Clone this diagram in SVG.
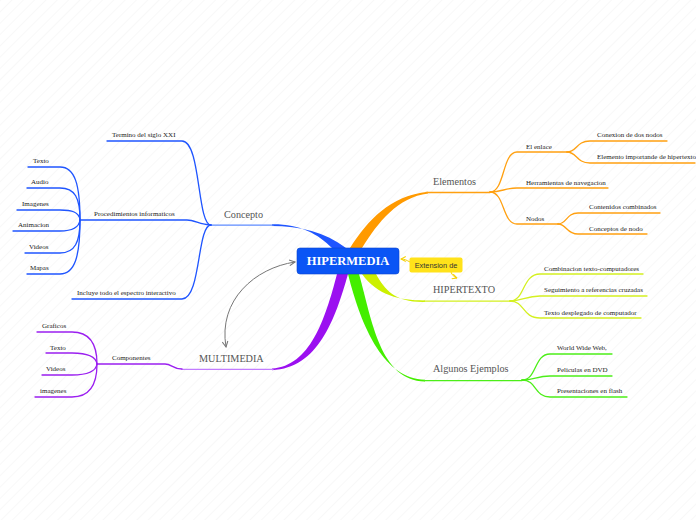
<svg xmlns="http://www.w3.org/2000/svg" width="696" height="520" viewBox="0 0 696 520">
<style>
.t{font-family:"Liberation Serif","Times New Roman",serif;font-size:7px;fill:#222}
.m{font-family:"Liberation Serif","Times New Roman",serif;font-size:10.2px;fill:#555}
.l{fill:none;stroke-width:1.3;stroke-linecap:round}
.b{stroke:#1f55ff}.bl{stroke:#5f8cff}
.o{stroke:#ffa010}
.p{stroke:#9b1ff0}.pl{stroke:#c27cff}
.y{stroke:#d4f020}
.g{stroke:#4cee18}
</style>
<defs>
<pattern id="bg" width="8" height="8" patternUnits="userSpaceOnUse" patternTransform="rotate(45)">
<line x1="0" y1="0" x2="0" y2="8" stroke="#f1f1f1" stroke-width="1"/>
</pattern>
<marker id="ga" viewBox="0 0 10 10" refX="9" refY="5" markerWidth="7" markerHeight="7" orient="auto-start-reverse">
<path d="M1,1 L9,5 L1,9" fill="none" stroke="#777" stroke-width="1.5"/>
</marker>
<marker id="ya" viewBox="0 0 10 10" refX="9" refY="5" markerWidth="6" markerHeight="6" orient="auto">
<path d="M1,1 L9,5 L1,9" fill="none" stroke="#f5d000" stroke-width="1.8"/>
</marker>
</defs>
<rect width="696" height="520" fill="#fff"/>
<rect width="696" height="520" fill="url(#bg)"/>

<g id="connectors">
<!-- main tapered branches -->
<path d="M272,224.3 C300,224 318,234 332,248 L346,248 C325,232 300,226 272,226 Z" fill="#1f55ff"/>
<path d="M350,248 C368,220 390,196 428,191.8 L428,193.4 C398,197 378,222 362,248 Z" fill="#ff9a00"/>
<path d="M337,274 C325,320 310,366 272,368.6 L272,370.2 C318,368 335,320 348,274 Z" fill="#9b10f0"/>
<path d="M348,274 C362,330 385,379 425,379.8 L425,381.4 C380,381 372,320 359,274 Z" fill="#44ee00"/>
<path d="M362,274 C378,296 400,300.5 425,300.4 L425,302 C395,302.5 385,290 376,274 Z" fill="#ccf000"/>
<!-- main underlines -->
<path class="l bl" d="M211,225.2 L273,225.2"/>
<path class="l o" d="M426,192.5 L490,192.5"/>
<path class="l pl" d="M182,369.4 L273,369.4"/>
<path class="l y" d="M424,301.2 L510,301.2"/>
<path class="l g" d="M424,380.6 L522,380.6"/>
<!-- Concepto children -->
<path class="l b" d="M211,225 C197,225 201,141 182,141 L107,141"/>
<path class="l b" d="M211,225 C200,225 195,220 187,220 L80,220"/>
<path class="l b" d="M211,225 C197,225 201,299 182,299 L72,299"/>
<!-- Procedimientos leaves -->
<path class="l b" d="M80,220 C80,185 75,167 60,167 L28,167"/>
<path class="l b" d="M80,220 C80,198 75,188 60,188 L27,188"/>
<path class="l b" d="M80,220 C79,212 72,210 60,210 L17,210"/>
<path class="l b" d="M80,220 C79,228 72,231 60,231 L13,231"/>
<path class="l b" d="M80,220 C80,242 75,253 60,253 L25,253"/>
<path class="l b" d="M80,220 C80,256 75,274 60,274 L27,274"/>
<!-- Componentes -->
<path class="l p" d="M182,369 C172,369 172,364 165,364 L97,364"/>
<path class="l p" d="M97,364 C97,342 88,332 72,332 L37,332"/>
<path class="l p" d="M97,364 C96,357 88,353 72,353 L46,353"/>
<path class="l p" d="M97,364 C96,371 88,375 72,375 L42,375"/>
<path class="l p" d="M97,364 C97,386 88,397 72,397 L35,397"/>
<!-- Elementos children -->
<path class="l o" d="M490,192 C505,192 502,152 517,152 L567,152"/>
<path class="l o" d="M567,152 C577,152 576,141 590,141 L667,141"/>
<path class="l o" d="M567,152 C577,152 576,163 590,163 L695,163"/>
<path class="l o" d="M490,192 C502,192 505,188 517,188 L608,188"/>
<path class="l o" d="M490,192 C505,192 502,224 517,224 L558,224"/>
<path class="l o" d="M558,224 C567,224 566,213 578,213 L660,213"/>
<path class="l o" d="M558,224 C567,224 566,234 578,234 L647,234"/>
<!-- HIPERTEXTO children -->
<path class="l y" d="M510,301 C525,301 522,274 540,274 L643,274"/>
<path class="l y" d="M510,301 C522,301 526,296 540,296 L647,296"/>
<path class="l y" d="M510,301 C525,301 522,318 540,318 L641,318"/>
<!-- Algunos Ejemplos children -->
<path class="l g" d="M522,380 C537,380 534,354 550,354 L612,354"/>
<path class="l g" d="M522,380 C534,380 537,376 550,376 L612,376"/>
<path class="l g" d="M522,380 C537,380 534,397 550,397 L627,397"/>
<!-- relation arrows -->
<path d="M295,262 C255,268 218,300 226,347" fill="none" stroke="#777" stroke-width="1" marker-start="url(#ga)" marker-end="url(#ga)"/>
<path d="M410,262 C406,260 405,259 401,259" fill="none" stroke="#f5d000" stroke-width="1" marker-end="url(#ya)"/>
<path d="M451,272 C452,275 454,277 457,278" fill="none" stroke="#f5d000" stroke-width="1" marker-end="url(#ya)"/>
</g>

<g id="n-hipermedia">
<rect x="297" y="248" width="102" height="26" rx="3" fill="#0a55f5" stroke="#0a44cc" stroke-width="0.6"/>
<text x="348" y="265" text-anchor="middle" style="font-family:'Liberation Serif','Times New Roman',serif;font-size:12.5px;font-weight:bold;fill:#fff">HIPERMEDIA</text>
</g>
<g id="n-extension">
<rect x="409.5" y="257.5" width="53" height="15" rx="2" fill="#ffe21a"/>
<text x="436" y="268" text-anchor="middle" style="font-family:'Liberation Sans',Arial,sans-serif;font-size:7.4px;fill:#333">Extension de</text>
</g>

<g id="n-concepto"><text class="m" x="224" y="218">Concepto</text></g>
<g id="n-termino"><text class="t" x="112" y="136.5">Termino del siglo XXI</text></g>
<g id="n-procedimientos"><text class="t" x="94" y="215.5">Procedimientos informaticos</text></g>
<g id="n-incluye"><text class="t" x="77" y="295">Incluye todo el espectro interactivo</text></g>
<g id="n-texto1"><text class="t" x="33" y="162.5">Texto</text></g>
<g id="n-audio"><text class="t" x="31" y="183.5">Audio</text></g>
<g id="n-imagenes1"><text class="t" x="22" y="205.5">Imagenes</text></g>
<g id="n-animacion"><text class="t" x="18" y="226.5">Animacion</text></g>
<g id="n-videos1"><text class="t" x="29" y="248.5">Videos</text></g>
<g id="n-mapas"><text class="t" x="30" y="269.5">Mapas</text></g>

<g id="n-multimedia"><text class="m" x="199" y="361.5">MULTIMEDIA</text></g>
<g id="n-componentes"><text class="t" x="112" y="359.5">Componentes</text></g>
<g id="n-graficos"><text class="t" x="42" y="327.5">Graficos</text></g>
<g id="n-texto2"><text class="t" x="50" y="349.5">Texto</text></g>
<g id="n-videos2"><text class="t" x="46" y="370.5">Videos</text></g>
<g id="n-imagenes2"><text class="t" x="40" y="392.5">imagenes</text></g>

<g id="n-elementos"><text class="m" x="433" y="185">Elementos</text></g>
<g id="n-enlace"><text class="t" x="526" y="148.5">El enlace</text></g>
<g id="n-conexion"><text class="t" x="597" y="136.5">Conexion de dos nodos</text></g>
<g id="n-elemento"><text class="t" x="597" y="158.5">Elemento importande de hipertexto</text></g>
<g id="n-herramientas"><text class="t" x="526" y="184.5">Herramientas de navegacion</text></g>
<g id="n-nodos"><text class="t" x="526" y="220.5">Nodos</text></g>
<g id="n-contenidos"><text class="t" x="589" y="208.5">Contenidos combinados</text></g>
<g id="n-conceptos"><text class="t" x="589" y="230.5">Conceptos de nodo</text></g>

<g id="n-hipertexto"><text class="m" x="433" y="293">HIPERTEXTO</text></g>
<g id="n-combinacion"><text class="t" x="544" y="270.5">Combinacion texto-computadores</text></g>
<g id="n-seguimiento"><text class="t" x="544" y="291.5">Seguimiento a referencias cruzadas</text></g>
<g id="n-desplegado"><text class="t" x="544" y="314.5">Texto desplegado de computador</text></g>

<g id="n-ejemplos"><text class="m" x="433" y="372">Algunos Ejemplos</text></g>
<g id="n-www"><text class="t" x="557" y="349.5">World Wide Web,</text></g>
<g id="n-peliculas"><text class="t" x="557" y="371.5">Peliculas en DVD</text></g>
<g id="n-presentaciones"><text class="t" x="557" y="392.5">Presentaciones en flash</text></g>
</svg>
